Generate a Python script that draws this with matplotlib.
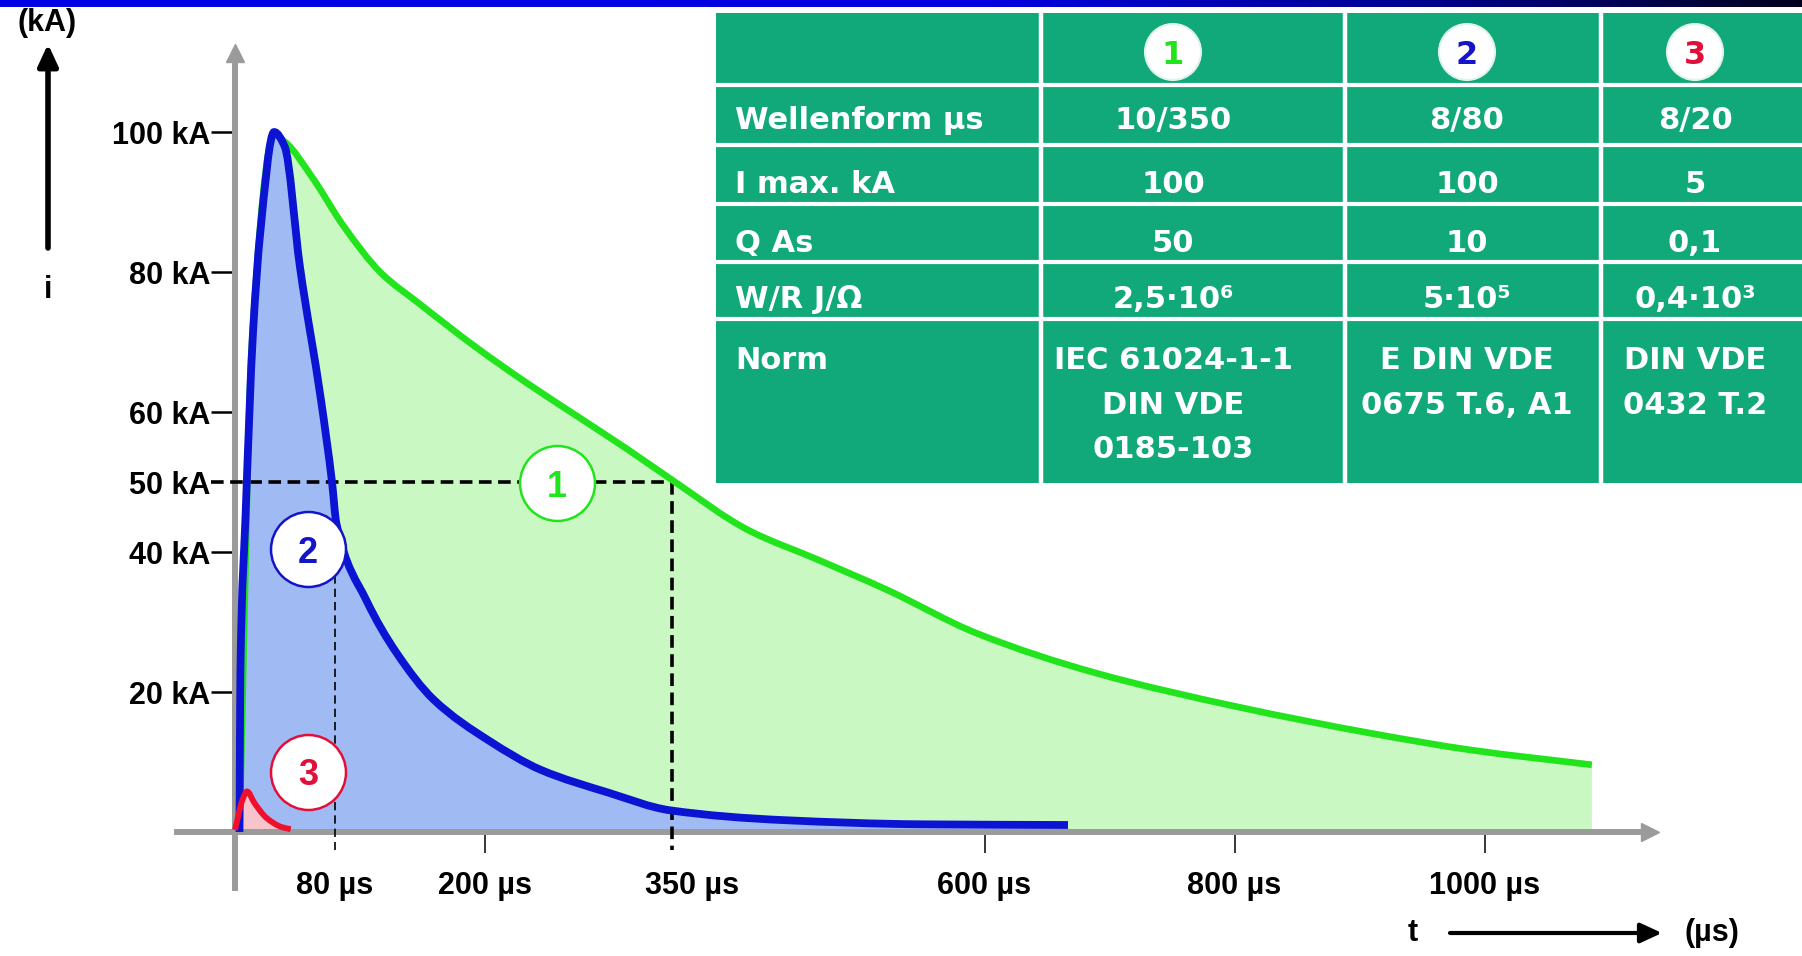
import numpy as np
import matplotlib.pyplot as plt
from matplotlib.patches import Circle, Rectangle, PathPatch
from matplotlib.path import Path
from matplotlib.colors import LinearSegmentedColormap
from matplotlib.transforms import ScaledTranslation

plt.rcParams['font.family'] = ['Liberation Sans', 'DejaVu Sans']
plt.rcParams['font.weight'] = 'bold'

# -- Waveform 1: 10/350 µs (t in µs, i in kA)
t_wave1 = [4, 14, 31.7, 40.2, 61.9, 87.5, 117.6, 147.7, 192.8, 234.2, 275, 315.8, 350,
           411.3, 466.7, 521.9, 593.6, 689.3, 801.9, 909.3, 989.7, 1085.9]
i_wave1 = [0, 70, 99.5, 98.6, 93.6, 86.5, 79.8, 75.5, 69.3, 64.1, 59.3, 54.5, 50.3,
           43.1, 38.9, 34.6, 28.4, 22.7, 17.9, 14.1, 11.7, 9.6]

# -- Waveform 2: 8/80 µs
t_wave2 = [4.0, 4.7, 8.8, 14.8, 20.6, 31.7, 40.2, 52.3, 69.2, 78, 81.5, 105.5, 129.6,
           159.4, 204, 244.8, 299.5, 348.4, 438.8, 549.5, 666.8]
i_wave2 = [0, 22.7, 45, 71.3, 85.6, 100, 97.9, 80.8, 61.7, 50, 44.1, 33.1, 25.6,
           18.9, 13, 8.9, 5.6, 3.1, 1.7, 1.1, 1.0]

# -- Waveform 3: 8/20 µs
t_wave3 = [0.4, 6.4, 10, 16.1, 25.7, 37.8, 45]
i_wave3 = [0.3, 4.6, 5.8, 4.1, 2.0, 0.7, 0.4]

# -- Axis ticks
t_ticks = [80, 200, 350, 600, 800, 1000]
t_tick_labels = ['80 µs', '200 µs', '350 µs', '600 µs', '800 µs', '1000 µs']
i_ticks = [20, 40, 50, 60, 80, 100]
i_tick_labels = ['20 kA', '40 kA', '50 kA', '60 kA', '80 kA', '100 kA']

# -- Half value markers (50 kA at 80 µs and 350 µs)
i_half = 50
t_half = [80, 350]

# -- Numbered curve labels
label_nums = ['1', '2', '3']
label_t = [258, 59, 59]
label_i = [49.8, 40.4, 8.6]

# -- Table content
row_labels = ['Wellenform µs', 'I max. kA', 'Q As', 'W/R J/Ω', 'Norm']
col_wave1 = ['10/350', '100', '50', '2,5·10⁶', ['IEC 61024-1-1', 'DIN VDE', '0185-103']]
col_wave2 = ['8/80', '100', '10', '5·10⁵', ['E DIN VDE', '0675 T.6, A1']]
col_wave3 = ['8/20', '5', '0,1', '0,4·10³', ['DIN VDE', '0432 T.2']]

# -- Colours
green, green_fill = '#22e41c', '#c9f8c3'
blue, blue_fill = '#0a14d2', '#a0bbf3'
red, red_fill = '#f0102e', '#f8c4cc'
axis_gray = '#9b9b9b'
table_green = '#12a97a'
circle_cols = [green, '#1414c8', '#e0103a']


def smooth_path(xs, ys, closed_to_zero=False):
    # -- Smooth curve through the read points, monotone cubic segments (no overshoot)
    x = np.asarray(xs, float)
    y = np.asarray(ys, float)
    h = np.diff(x)
    d = np.diff(y) / h
    m = np.zeros_like(x)
    m[0], m[-1] = d[0], d[-1]
    for k in range(1, len(x) - 1):
        if d[k - 1] * d[k] > 0:
            w1 = 2 * h[k] + h[k - 1]
            w2 = h[k] + 2 * h[k - 1]
            m[k] = (w1 + w2) / (w1 / d[k - 1] + w2 / d[k])
    verts, codes = [(x[0], y[0])], [Path.MOVETO]
    for k in range(len(x) - 1):
        verts += [(x[k] + h[k] / 3, y[k] + m[k] * h[k] / 3),
                  (x[k + 1] - h[k] / 3, y[k + 1] - m[k + 1] * h[k] / 3),
                  (x[k + 1], y[k + 1])]
        codes += [Path.CURVE4] * 3
    if closed_to_zero:
        verts += [(x[-1], 0), (x[0], 0), (x[0], y[0])]
        codes += [Path.LINETO, Path.LINETO, Path.CLOSEPOLY]
    return Path(verts, codes)


# -- Figure layout (pixels)
W, H = 1802, 956
x0_px, px_per_us = 234.5, 1.25
y0_px, px_per_ka = 832, 7.0
t_lim = (-46, 1132)
i_lim = (-8, 111.3)

fig = plt.figure(figsize=(W / 100, H / 100), dpi=100)
left = (x0_px + t_lim[0] * px_per_us) / W
width = (t_lim[1] - t_lim[0]) * px_per_us / W
bottom = (H - (y0_px - i_lim[0] * px_per_ka)) / H
height = (i_lim[1] - i_lim[0]) * px_per_ka / H
ax = fig.add_axes([left, bottom, width, height])
ax.set_xlim(*t_lim)
ax.set_ylim(*i_lim)
ax.patch.set_visible(False)

# -- Filled waveforms
waves = [(t_wave1, i_wave1, green, green_fill, 4.8),
         (t_wave2, i_wave2, blue, blue_fill, 5.6),
         (t_wave3, i_wave3, red, red_fill, 4.2)]
for k, (t, i, lc, fc, lw) in enumerate(waves):
    ax.add_patch(PathPatch(smooth_path(t, i, True), fc=fc, ec='none', zorder=1 + 0.1 * k))
    ax.add_patch(PathPatch(smooth_path(t, i), fill=False, ec=lc, lw=lw,
                           joinstyle='round', capstyle='butt', zorder=3 + 0.2 * k))

# -- Dashed half-value lines
tick_len_us = 24 / px_per_us
ax.plot([-tick_len_us, t_half[1]], [i_half, i_half], color='black', lw=2.6,
        dashes=(3.5, 1.8), zorder=2.6)
ax.plot([t_half[1], t_half[1]], [i_half, -2.6], color='black', lw=2.6,
        dashes=(3.5, 1.8), zorder=2.6)
ax.plot([t_half[0], t_half[0]], [i_half, -2.6], color='black', lw=1.2,
        dashes=(5, 3), zorder=2.6)

# -- Numbered circles
for num, t, i, c in zip(label_nums, label_t, label_i, circle_cols):
    ax.plot(t, i, 'o', ms=54, mfc='white', mec=c, mew=1.8, zorder=5)
    ax.text(t, i, num, color=c, fontsize=26, ha='center', va='center_baseline',
            zorder=6)

# -- Axes with arrowheads
for s in ['top', 'right']:
    ax.spines[s].set_visible(False)
for s in ['left', 'bottom']:
    ax.spines[s].set_position(('data', 0))
    ax.spines[s].set_color(axis_gray)
    ax.spines[s].set_linewidth(4.3)
ax.plot(1, 0, '>', ms=13, color=axis_gray, transform=ax.get_yaxis_transform(),
        clip_on=False, zorder=2.5)
ax.plot(0, 1, '^', ms=13, color=axis_gray, transform=ax.get_xaxis_transform(),
        clip_on=False, zorder=2.5)

ax.set_xticks(t_ticks, t_tick_labels)
ax.set_yticks(i_ticks, i_tick_labels)
ax.tick_params(axis='y', direction='out', length=17.3, width=1.8, color='black',
               pad=0, labelsize=22)
ax.tick_params(axis='x', direction='out', length=15, width=1.1, color='black',
               pad=13, labelsize=22)
for tk, v in zip(ax.yaxis.get_major_ticks(), i_ticks):
    if v == i_half:
        tk.tick1line.set_visible(False)
for tk, v in zip(ax.xaxis.get_major_ticks(), t_ticks):
    if v in t_half:
        tk.tick1line.set_visible(False)
lbl = ax.get_xticklabels()[t_ticks.index(350)]
lbl.set_transform(lbl.get_transform() + ScaledTranslation(0.2, 0, fig.dpi_scale_trans))

# -- Overlay in pixel coordinates: title bar, axis captions, table
ov = fig.add_axes([0, 0, 1, 1], zorder=10)
ov.patch.set_visible(False)
ov.axis('off')

bar_cmap = LinearSegmentedColormap.from_list(
    'bar', [(0, '#0000e6'), (0.55, '#0000e0'), (0.8, '#00008a'), (1, '#00001e')])
ov.imshow(np.linspace(0, 1, 512)[np.newaxis, :], cmap=bar_cmap, aspect='auto',
          extent=(0, W, 7, 0))
ov.set_xlim(0, W)
ov.set_ylim(H, 0)

ov.text(47, 23, '(kA)', fontsize=22, ha='center', va='center')
ov.annotate('', xy=(48, 44), xytext=(48, 248),
            arrowprops=dict(arrowstyle='-|>,head_length=0.65,head_width=0.3',
                            mutation_scale=20, lw=4, color='black',
                            shrinkA=0, shrinkB=0))
ov.text(48, 290, 'i', fontsize=22, ha='center', va='center')
ov.text(1413, 933, 't', fontsize=22, ha='center', va='center')
ov.annotate('', xy=(1662, 933), xytext=(1450, 933),
            arrowprops=dict(arrowstyle='-|>,head_length=0.65,head_width=0.3',
                            mutation_scale=20, lw=3, color='black',
                            shrinkA=0, shrinkB=0))
ov.text(1712, 933, '(µs)', fontsize=22, ha='center', va='center')

# -- Table
tab_x = [716, 1041, 1345, 1601, 1802]
tab_y = [13, 85, 145, 203.5, 262, 319, 483]
ov.add_patch(Rectangle((tab_x[0], tab_y[0]), tab_x[-1] - tab_x[0],
                       tab_y[-1] - tab_y[0], fc=table_green, ec='none'))
for y in tab_y[1:-1]:
    ov.plot([tab_x[0], tab_x[-1]], [y, y], color='white', lw=3)
for x in tab_x[1:-1]:
    ov.plot([x, x], [tab_y[0], tab_y[-1]], color='white', lw=3.2)

col_cx = [1173, 1467, 1695]
row_base = [128.7, 193, 252, 308, 369]
norm_step = 44.5
tab_font = dict(family='DejaVu Sans', fontsize=22, color='white', va='baseline')

for num, cx, c in zip(label_nums, col_cx, circle_cols):
    ov.add_patch(Circle((cx, 52), 28, fc='white', ec='#dff3ea', lw=1.5))
    ov.text(cx, 52, num, family='DejaVu Sans', fontsize=23, color=c,
            ha='center', va='center_baseline')

for lab, yb in zip(row_labels, row_base):
    ov.text(735, yb, lab, ha='left', **tab_font)

for col, cx in zip([col_wave1, col_wave2, col_wave3], col_cx):
    for val, yb in zip(col[:-1], row_base[:-1]):
        ov.text(cx, yb, val, ha='center', **tab_font)
    for k, line in enumerate(col[-1]):
        ov.text(cx, row_base[-1] + k * norm_step, line, ha='center', **tab_font)

fig.savefig('out.png', dpi=100)
